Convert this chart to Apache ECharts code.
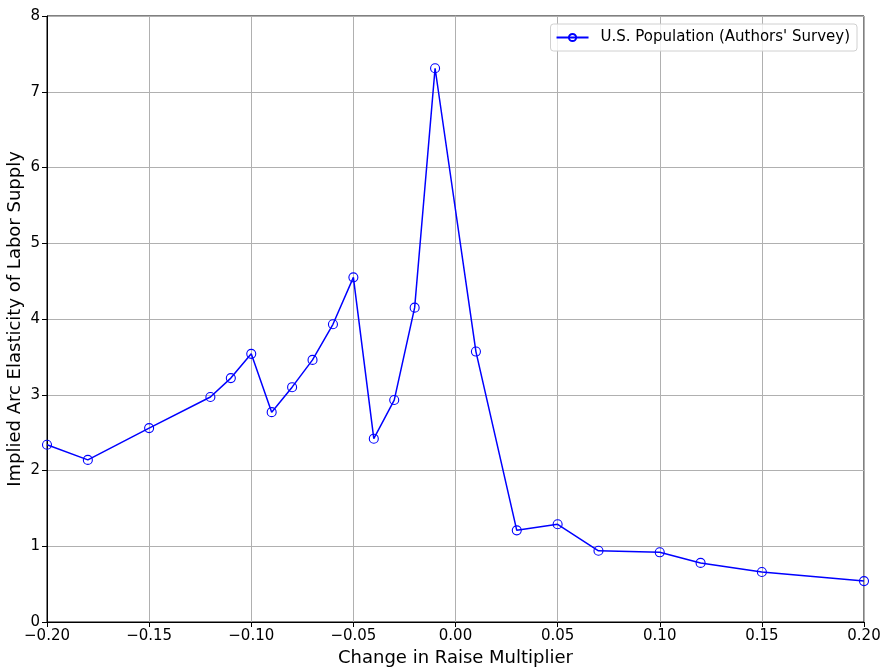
<!DOCTYPE html>
<html>
<head>
<meta charset="utf-8">
<script src="https://cdn.jsdelivr.net/npm/echarts@6/dist/echarts.min.js"></script>
<style>html,body{margin:0;padding:0;background:#fff}#c{width:887px;height:669px}</style>
</head>
<body>
<div id="c"></div>
<script>
const raiseChange = [-0.20,-0.18,-0.15,-0.12,-0.11,-0.10,-0.09,-0.08,-0.07,-0.06,-0.05,-0.04,-0.03,-0.02,-0.01,0.01,0.03,0.05,0.07,0.10,0.12,0.15,0.20];
const elasticity = [2.34,2.14,2.56,2.97,3.22,3.54,2.77,3.10,3.46,3.93,4.55,2.42,2.93,4.15,7.31,3.57,1.21,1.29,0.94,0.92,0.78,0.66,0.54];
const seriesName = "U.S. Population (Authors' Survey)";
const xLabel = "Change in Raise Multiplier";
const yLabel = "Implied Arc Elasticity of Labor Supply";

const font = "DejaVu Sans";
const chart = echarts.init(document.getElementById('c'), null, {renderer:'canvas'});
chart.setOption({
  animation:false,
  backgroundColor:'#fff',
  grid:{left:47,right:23,top:16,bottom:47,outerBoundsMode:'none',containLabel:false,show:true,borderColor:'#000',borderWidth:1,backgroundColor:'transparent'},
  legend:{
    show:true, right:30, top:24, orient:'horizontal',
    backgroundColor:'rgba(255,255,255,0.8)', borderColor:'#d0d0d0', borderWidth:1, borderRadius:3,
    padding:[6,7,6,5], itemWidth:32, itemHeight:9, itemGap:10,
    textStyle:{fontFamily:font,fontSize:15,color:'#000',padding:[0,0,0,7]},
    data:[seriesName]
  },
  xAxis:{
    type:'value', min:-0.2, max:0.2, interval:0.05,
    name:xLabel, nameLocation:'middle', nameGap:27,
    nameTextStyle:{fontFamily:font,fontSize:18,color:'#000'},
    axisLine:{show:true,onZero:false,lineStyle:{color:'#000',width:1}},
    axisTick:{show:true,length:5,lineStyle:{color:'#000'}},
    axisLabel:{fontFamily:font,fontSize:15,color:'#000',margin:7,
      formatter:v=>{const s=Math.abs(v)<1e-9?'0.00':v.toFixed(2);return s.replace('-','\u2212');}},
    splitLine:{show:true,lineStyle:{color:'#b0b0b0',width:1}}
  },
  yAxis:{
    type:'value', min:0, max:8, interval:1,
    name:yLabel, nameLocation:'middle', nameGap:23, nameMoveOverlap:false,
    nameTextStyle:{fontFamily:font,fontSize:18,color:'#000'},
    axisLine:{show:true,onZero:false,lineStyle:{color:'#000',width:1}},
    axisTick:{show:true,length:5,lineStyle:{color:'#000'}},
    axisLabel:{fontFamily:font,fontSize:15,color:'#000',margin:7},
    splitLine:{show:true,lineStyle:{color:'#b0b0b0',width:1}}
  },
  series:[{
    name:seriesName, type:'line',
    data:raiseChange.map((x,i)=>[x,elasticity[i]]),
    symbol:'circle', symbolSize:9, showAllSymbol:true,
    lineStyle:{color:'#0000ff',width:1.5},
    itemStyle:{color:'#ffffff00',borderColor:'#0000ff',borderWidth:1.1},
    emphasis:{disabled:true}
  }]
});
</script>
</body>
</html>
